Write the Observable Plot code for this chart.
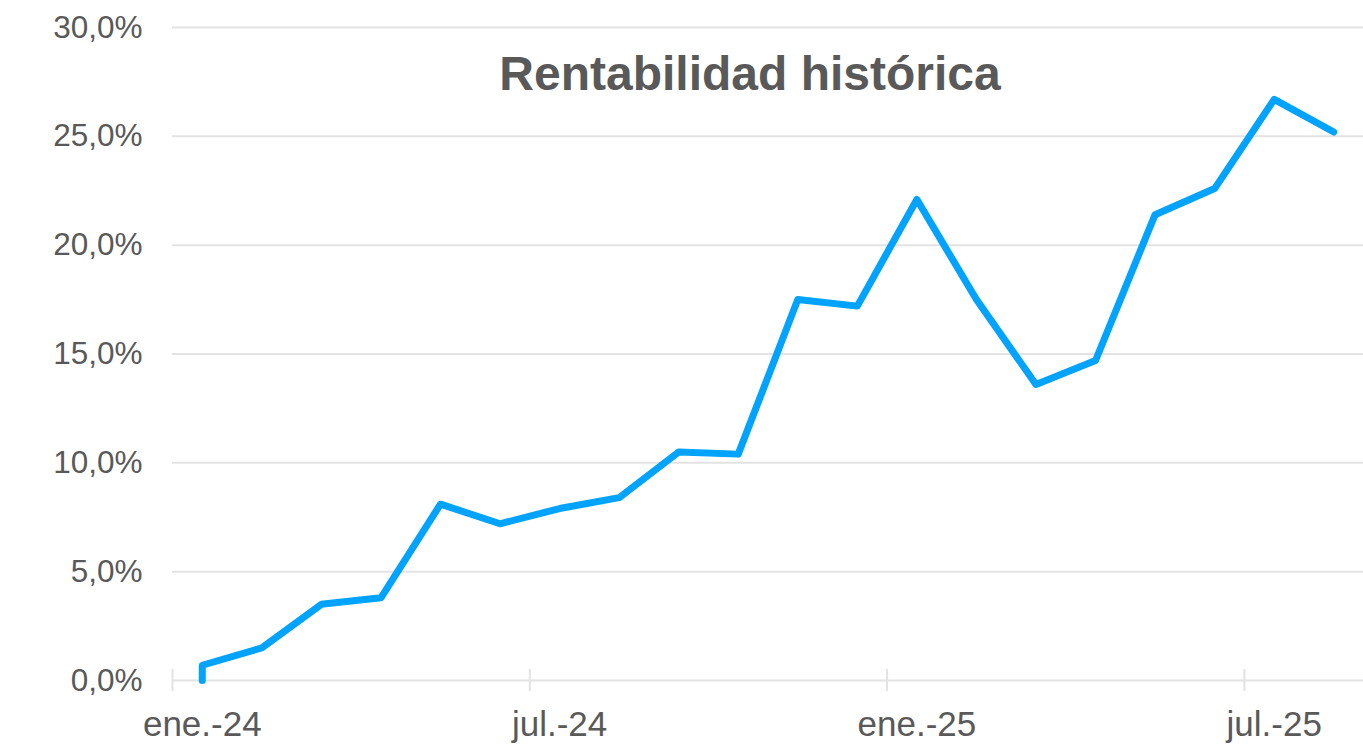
<!DOCTYPE html>
<html>
<head>
<meta charset="utf-8">
<script src="https://cdn.jsdelivr.net/npm/d3@7"></script>
<script src="https://cdn.jsdelivr.net/npm/@observablehq/plot@0.6"></script>
<style>
  html, body { margin: 0; padding: 0; background: #fff; }
  #chart svg { display: block; }
</style>
</head>
<body>
<div id="chart"></div>
<script>
// Month categories (index = position on the x axis)
const months = ["ene.-24","feb.-24","mar.-24","abr.-24","may.-24","jun.-24",
                "jul.-24","ago.-24","sep.-24","oct.-24","nov.-24","dic.-24",
                "ene.-25","feb.-25","mar.-25","abr.-25","may.-25","jun.-25",
                "jul.-25","ago.-25"];
// Month index for each observation (first two share ene.-24: start at 0%)
const pointMonth = [0, 0, 1, 2, 3, 4, 5, 6, 7, 8, 9, 10, 11, 12, 13, 14, 15, 16, 17, 18, 19];
// Cumulative return (%)
const rentabilidad = [0.0, 0.7, 1.5, 3.5, 3.8, 8.1, 7.2, 7.9, 8.4, 10.5, 10.4,
                      17.5, 17.2, 22.1, 17.5, 13.6, 14.7, 21.4, 22.6, 26.7, 25.2];
const yTicks = [0, 5, 10, 15, 20, 25, 30];
const xTickMarks = [0, 6, 12, 18];
const xLabelMonths = [0, 6, 12, 18];
const title = "Rentabilidad histórica";

const data = rentabilidad.map((v, i) => ({x: pointMonth[i] + 0.5, y: v}));
const grey = "#595959";
const gridColor = "#e3e3e3";
const font = "'Liberation Sans', Arial, sans-serif";

const chart = Plot.plot({
  width: 1363,
  height: 747,
  marginTop: 27,
  marginBottom: 67,
  marginLeft: 172,
  marginRight: 0,
  style: {fontFamily: font, background: "#fff", overflow: "visible"},
  x: {domain: [0, months.length]},
  y: {domain: [0, 30]},
  marks: [
    Plot.ruleY(yTicks, {stroke: gridColor, strokeWidth: 2}),
    Plot.axisY({
      ticks: yTicks, tickSize: 0, tickPadding: 30,
      tickFormat: d => d.toFixed(1).replace(".", ",") + "%",
      fontSize: 31.5, fill: grey, label: null
    }),
    Plot.axisX({
      ticks: xTickMarks, tickSize: 22, dy: -11, stroke: gridColor, strokeWidth: 2,
      tickFormat: () => "", label: null
    }),
    Plot.axisX({
      ticks: xLabelMonths.map(m => m + 0.5), tickSize: 0, tickPadding: 31,
      tickFormat: d => months[Math.floor(d)],
      fontSize: 35, fill: grey, label: null
    }),
    Plot.line(data, {
      x: "x", y: "y", stroke: "#00a3ff", strokeWidth: 7,
      strokeLinecap: "round", strokeLinejoin: "round"
    }),
    Plot.text([title], {
      frameAnchor: "top", dx: -18, dy: 47, lineAnchor: "middle",
      fontSize: 48, fontWeight: "bold", fill: grey, fontFamily: font
    })
  ]
});
document.getElementById("chart").appendChild(chart);
</script>
</body>
</html>
